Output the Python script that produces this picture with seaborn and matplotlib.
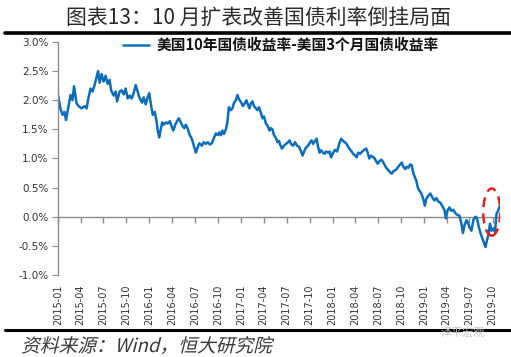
import numpy as np
import pandas as pd
import matplotlib
matplotlib.use("Agg")
import matplotlib.pyplot as plt
import matplotlib.dates as mdates
import seaborn as sns
from matplotlib.patches import Ellipse, PathPatch
from matplotlib.textpath import TextPath
from matplotlib.font_manager import FontProperties
from matplotlib.transforms import Affine2D
from matplotlib.ticker import FuncFormatter

# ======================================================
# Data
# ======================================================

start_date = "2015-01-01"

# days after start_date
day_offsets = [
    0, 10, 18, 26, 32, 42, 50, 58, 64, 74, 82, 94, 106, 114, 122, 130, 138, 146, 154, 160,
    166, 174, 182, 190, 198, 206, 212, 222, 230, 236, 246, 254, 262, 270, 278, 286, 294, 302, 310, 318,
    322, 330, 336, 342, 350, 358, 364, 370, 378, 386, 394, 398, 404, 410, 416, 422, 430, 438, 446, 454,
    460, 470, 482, 490, 498, 504, 510, 516, 526, 534, 542, 550, 558, 564, 574, 582, 590, 598, 606, 614,
    622, 630, 638, 644, 650, 656, 662, 670, 676, 682, 690, 696, 702, 710, 716, 722, 730, 738, 746, 752,
    758, 764, 770, 776, 782, 790, 796, 802, 810, 816, 822, 830, 838, 844, 850, 856, 862, 870, 876, 882,
    888, 894, 902, 910, 918, 924, 930, 938, 946, 954, 962, 970, 976, 982, 990, 998, 1006, 1012, 1018, 1026,
    1032, 1038, 1044, 1050, 1058, 1064, 1070, 1078, 1084, 1090, 1098, 1106, 1114, 1122, 1130, 1138, 1144, 1150, 1158, 1166,
    1172, 1178, 1186, 1192, 1198, 1206, 1214, 1222, 1230, 1236, 1242, 1250, 1258, 1264, 1270, 1276, 1282, 1290, 1296, 1302,
    1310, 1318, 1326, 1332, 1338, 1346, 1352, 1358, 1366, 1372, 1378, 1386, 1392, 1398, 1406, 1412, 1418, 1424, 1430, 1436,
    1442, 1450, 1458, 1464, 1470, 1478, 1486, 1494, 1502, 1510, 1518, 1526, 1534, 1542, 1548, 1554, 1562, 1570, 1578, 1586,
    1594, 1602, 1610, 1616, 1622, 1630, 1636, 1642, 1650, 1658, 1666, 1672, 1678, 1686, 1694, 1700, 1706, 1712, 1718, 1724,
    1730, 1738, 1744, 1750, 1756, 1762,
]

# 10Y minus 3M treasury spread, %
spread = [
    2.09, 1.85, 1.75, 1.80, 1.66, 1.90, 2.09, 2.00, 2.24, 1.95, 1.90, 1.86, 1.90, 1.86, 2.05, 2.20, 2.15, 2.26, 2.40, 2.50,
    2.30, 2.45, 2.32, 2.42, 2.28, 2.35, 2.17, 2.08, 2.15, 1.98, 2.15, 2.17, 2.10, 2.20, 2.03, 2.08, 2.03, 2.12, 2.26, 2.15,
    2.08, 2.00, 1.96, 2.05, 1.93, 2.05, 2.12, 1.95, 1.75, 1.80, 1.62, 1.48, 1.36, 1.50, 1.62, 1.58, 1.62, 1.60, 1.64, 1.55,
    1.48, 1.60, 1.69, 1.62, 1.55, 1.52, 1.58, 1.53, 1.40, 1.34, 1.22, 1.10, 1.20, 1.26, 1.22, 1.28, 1.25, 1.28, 1.24, 1.26,
    1.35, 1.43, 1.40, 1.45, 1.40, 1.48, 1.42, 1.50, 1.62, 1.88, 1.83, 1.86, 1.95, 2.00, 2.09, 2.02, 1.97, 1.90, 1.95, 2.00,
    1.92, 1.86, 1.95, 1.98, 1.90, 1.86, 1.83, 1.88, 1.78, 1.69, 1.72, 1.60, 1.55, 1.48, 1.52, 1.50, 1.40, 1.35, 1.28, 1.30,
    1.22, 1.17, 1.22, 1.25, 1.28, 1.31, 1.25, 1.22, 1.28, 1.22, 1.20, 1.12, 1.05, 1.12, 1.19, 1.22, 1.28, 1.31, 1.25, 1.30,
    1.34, 1.20, 1.10, 1.14, 1.10, 1.08, 1.12, 1.10, 1.12, 1.02, 1.10, 1.15, 1.12, 1.25, 1.34, 1.30, 1.28, 1.26, 1.20, 1.15,
    1.12, 1.08, 1.05, 1.02, 1.10, 1.08, 1.12, 1.15, 1.17, 1.10, 1.00, 1.05, 1.02, 1.00, 0.95, 0.91, 0.95, 0.98, 0.95, 0.90,
    0.84, 0.80, 0.76, 0.74, 0.78, 0.80, 0.82, 0.86, 0.90, 0.93, 0.86, 0.82, 0.86, 0.84, 0.90, 0.88, 0.75, 0.68, 0.62, 0.50,
    0.45, 0.40, 0.30, 0.19, 0.31, 0.36, 0.40, 0.33, 0.28, 0.32, 0.26, 0.24, 0.18, 0.12, -0.03, 0.10, 0.16, 0.10, 0.12, 0.06,
    0.03, 0.02, -0.12, -0.28, -0.15, -0.06, -0.10, -0.18, -0.24, -0.05, 0.00, -0.02, -0.15, -0.28, -0.38, -0.45, -0.52, -0.40, -0.30, -0.12,
    -0.24, -0.20, -0.26, 0.05, 0.10, 0.17,
]

series_label = "美国10年国债收益率-美国3个月国债收益率"
title_text = "图表13：10 月扩表改善国债利率倒挂局面"
source_text = "资料来源：Wind，恒大研究院"
watermark_text = "泽平宏观"

y_ticks = [-1.0, -0.5, 0.0, 0.5, 1.0, 1.5, 2.0, 2.5, 3.0]

# highlighted window (red dashed ellipse)
mark_center = ("2019-09-28", 0.08)
mark_days = 68
mark_height = 0.81

# ======================================================
# Style
# ======================================================

sns.set_style("white")
plt.rcParams["font.family"] = ["Noto Sans CJK SC", "DejaVu Sans"]
plt.rcParams["axes.unicode_minus"] = False

line_color = "#0A6EBD"
axis_gray = "#8C8C8C"
text_gray = "#333333"

df = pd.DataFrame({
    "date": pd.Timestamp(start_date) + pd.to_timedelta(day_offsets, unit="D"),
    "spread": spread,
})

fig = plt.figure(figsize=(5.11, 3.57), dpi=100)
ax = fig.add_axes([0.1135, 0.2297, 0.979 - 0.1135, 0.8824 - 0.2297])

sns.lineplot(data=df, x="date", y="spread", ax=ax, color=line_color,
             linewidth=1.8, label=series_label)

# ======================================================
# Axes
# ======================================================

ax.set_xlim(pd.Timestamp("2015-01-01"), pd.Timestamp("2019-11-01"))
ax.set_ylim(-1.0, 3.0)
ax.set_xlabel("")
ax.set_ylabel("")

quarters = pd.date_range("2015-01-01", "2019-10-01", freq="QS")
ax.set_xticks(quarters)
ax.set_xticklabels([d.strftime("%Y-%m") for d in quarters], rotation=90,
                   fontsize=7, color=text_gray, family="DejaVu Sans")
ax.tick_params(axis="x", length=0, pad=7)

ax.set_yticks(y_ticks)
ax.yaxis.set_major_formatter(FuncFormatter(lambda v, p: f"{v:.1f}%"))
ax.tick_params(axis="y", direction="out", length=4, color=axis_gray,
               labelsize=7.5, labelcolor=text_gray, pad=3, left=True)
for lab in ax.get_yticklabels():
    lab.set_family("DejaVu Sans")

for side in ["top", "right", "bottom"]:
    ax.spines[side].set_visible(False)
ax.spines["left"].set_color(axis_gray)
ax.spines["left"].set_linewidth(1.0)

# zero line with its own tick marks
zero_axis = ax.secondary_xaxis(0.25)
zero_axis.set_xticks(mdates.date2num(quarters))
zero_axis.set_xticklabels([])
zero_axis.tick_params(direction="out", length=4, color=axis_gray, width=1.0)
zero_axis.spines["bottom"].set_color(axis_gray)
zero_axis.spines["bottom"].set_linewidth(1.0)
zero_axis.xaxis.set_minor_locator(matplotlib.ticker.NullLocator())

# red dashed ellipse around the latest observations
ell = Ellipse((mdates.date2num(pd.Timestamp(mark_center[0])), mark_center[1]),
              width=mark_days, height=mark_height, fill=False,
              edgecolor="#E02020", linestyle=(0, (4, 2.5)), linewidth=1.8, zorder=5)
ax.add_patch(ell)

leg = ax.legend(loc="center left", bbox_to_anchor=(0.2407, 0.874),
                bbox_transform=fig.transFigure, frameon=False,
                handlelength=1.8, handletextpad=0.5, borderpad=0, borderaxespad=0,
                prop=FontProperties(family=["Noto Sans CJK SC", "DejaVu Sans"],
                                    weight="bold", size=10.6))
for t in leg.get_texts():
    t.set_color("#111111")

# ======================================================
# Title, rules, source
# ======================================================

fig.text(0.505, 0.951, title_text, ha="center", va="center", fontsize=15,
         color="#2A2A2A")
fig.add_artist(plt.Line2D([0.01, 1.0], [0.908, 0.908], color="black",
                          linewidth=2.6, transform=fig.transFigure))
fig.add_artist(plt.Line2D([0.01, 1.0], [0.076, 0.076], color="black",
                          linewidth=2.2, transform=fig.transFigure))

# italic look for the source line via a skewed text path
src_path = TextPath((0, 0), source_text, size=13.5,
                    prop=FontProperties(family=["Noto Sans CJK SC", "DejaVu Sans"]))
src_tr = Affine2D().skew_deg(14, 0).scale(1 / 72).translate(0.21, 0.05) + fig.dpi_scale_trans
fig.add_artist(PathPatch(src_path, transform=src_tr, facecolor="#3A3A3A",
                         edgecolor="none"))

fig.text(0.905, 0.068, watermark_text, ha="center", va="center", fontsize=8,
         color="#C8C8C8")

fig.savefig("out.png", dpi=100)
